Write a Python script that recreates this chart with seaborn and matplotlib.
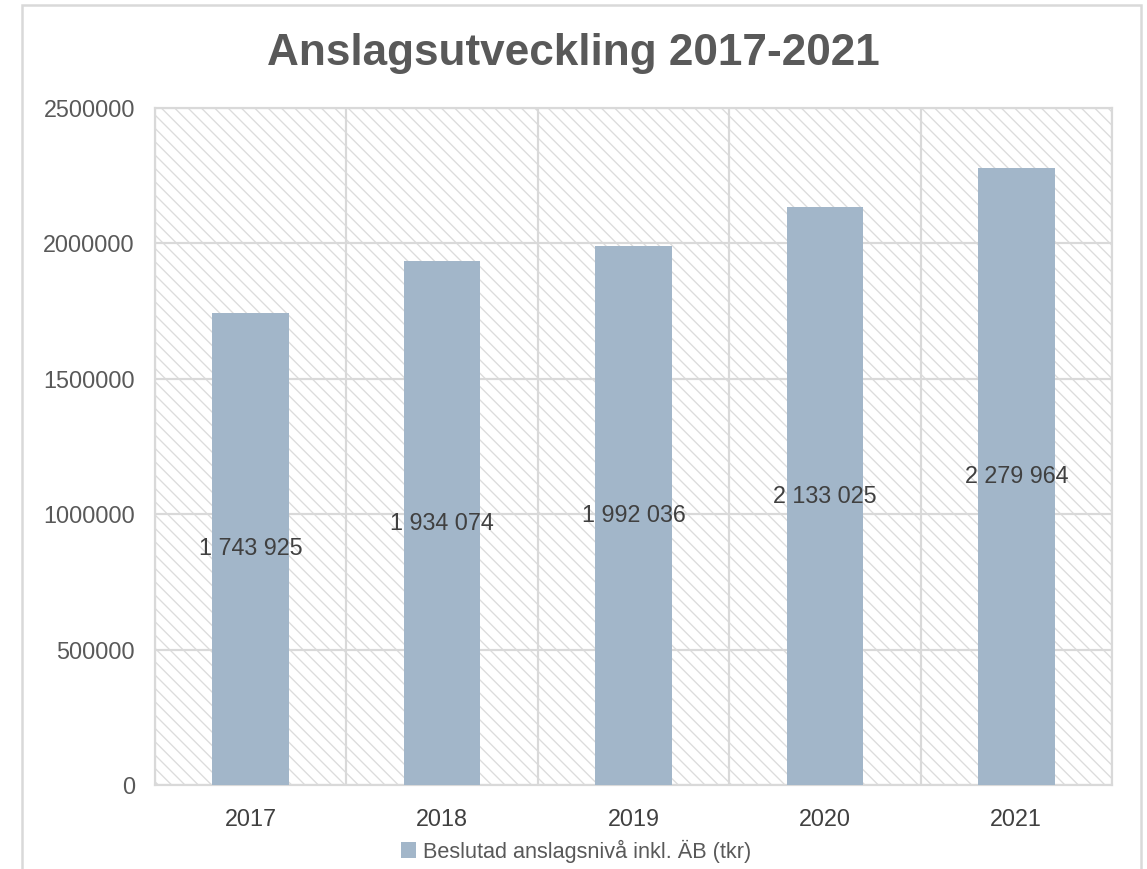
import matplotlib
matplotlib.use('Agg')
import matplotlib.pyplot as plt
from matplotlib.patches import Rectangle, Patch
import seaborn as sns
import pandas as pd

# data
years = ['2017', '2018', '2019', '2020', '2021']
values = [1743925, 1934074, 1992036, 2133025, 2279964]
series_name = 'Beslutad anslagsnivå inkl. ÄB (tkr)'
yticks = [0, 500000, 1000000, 1500000, 2000000, 2500000]

df = pd.DataFrame({'year': years, 'value': values})

sns.set_theme(style='white')
plt.rcParams['font.family'] = ['Liberation Sans', 'DejaVu Sans']
plt.rcParams['hatch.linewidth'] = 0.8

grid_col = '#d9d9d9'
text_col = '#595959'
bar_col = '#a2b6c9'

fig = plt.figure(figsize=(1147 / 120, 869 / 120), dpi=120)
ax = fig.add_axes([155 / 1147, 1 - 785 / 869, (1112 - 155) / 1147, (785 - 108) / 869])

# hatched plot-area background
ax.add_patch(Rectangle((0, 0), 1, 1, transform=ax.transAxes, facecolor='white',
                       edgecolor='#dcdcdc', hatch='\\\\\\', linewidth=0, zorder=0))

sns.barplot(data=df, x='year', y='value', color=bar_col, width=0.4,
            saturation=1, linewidth=0, ax=ax, zorder=3)

ax.set_ylim(0, 2500000)
ax.set_xlim(-0.5, 4.5)
ax.set_yticks(yticks)
ax.set_yticklabels([str(v) for v in yticks])
ax.set_xticks(range(len(years)), minor=False)
ax.set_xticks([i + 0.5 for i in range(-1, len(years))], minor=True)
ax.grid(True, axis='y', which='major', color=grid_col, linewidth=1.3, zorder=1)
ax.grid(True, axis='x', which='minor', color=grid_col, linewidth=1.3, zorder=1)
ax.set_axisbelow(True)
for s in ax.spines.values():
    s.set_color(grid_col)
    s.set_linewidth(1.3)
ax.tick_params(axis='both', which='both', length=0, labelsize=14, labelcolor=text_col)
ax.tick_params(axis='x', pad=14, labelcolor='#404040')
ax.tick_params(axis='y', pad=12)
ax.set_xlabel('')
ax.set_ylabel('')

# data labels at middle of bars
for i, v in enumerate(values):
    lbl = f'{v:,}'.replace(',', ' ')
    ax.text(i, v / 2, lbl, ha='center', va='center', fontsize=14, color='#404040', zorder=5)

fig.text(0.5, 1 - 54 / 869, 'Anslagsutveckling 2017-2021', ha='center', va='center',
         fontsize=26.5, fontweight='bold', color=text_col)

handle = Patch(facecolor=bar_col, edgecolor='none')
fig.legend([handle], [series_name], loc='center', bbox_to_anchor=(0.502, 1 - 851 / 869),
           frameon=False, fontsize=13, labelcolor=text_col, handlelength=0.7,
           handleheight=0.7, handletextpad=0.3, borderpad=0)

# outer chart border
fig.patches.append(Rectangle((22 / 1147, -0.02), (1141 - 22) / 1147, 1 - 5 / 869 + 0.02,
                             transform=fig.transFigure, fill=False, edgecolor=grid_col,
                             linewidth=1.5))

fig.savefig('out.png', dpi=120)
